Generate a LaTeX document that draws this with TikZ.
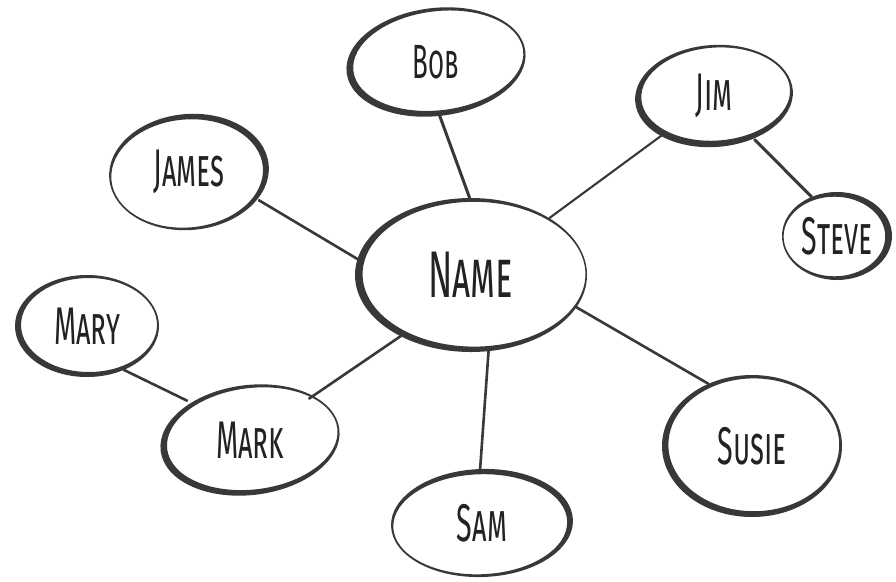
\documentclass[tikz,border=0pt]{standalone}
\usepackage{fontspec}
\setmainfont{Fira Sans}[FakeStretch=0.54]
\usetikzlibrary{shapes.geometric}
\definecolor{ink}{HTML}{383838}
\definecolor{txt}{HTML}{222222}
\tikzset{
  bubble/.style={ellipse, inner sep=0pt, outer sep=0pt, text=txt,
    font=\fontsize{53}{56}\selectfont\scshape},
  bigbubble/.style={bubble, font=\fontsize{66}{70}\selectfont\scshape},
  link/.style={draw=ink, line width=2.6pt, line cap=round},
  ring/.style={fill=ink, even odd rule},
}
% node, rx, ry, thickness, dx, dy, rotation
\newcommand\brushring[7]{%
  \begin{scope}[shift={(#1.center)}, rotate=#7]
    \fill[ring] (0,0) ellipse [x radius=#2, y radius=#3]
                (#5,#6) ellipse [x radius=#2-#4, y radius=#3-#4];
  \end{scope}}
\begin{document}
\begin{tikzpicture}[x=1pt,y=-1pt]
\useasboundingbox (0,0) rectangle (896,581);
\fill[white] (0,0) rectangle (896,581);
% nodes
\node[bigbubble, minimum width=232pt, minimum height=154pt] (name)  at (471,275) {Name};
\node[bubble, minimum width=180pt, minimum height=108pt, font=\fontsize{48}{52}\selectfont\scshape] (bob) at (436,62) {Bob};
\node[bubble, minimum width=158pt, minimum height=102pt] (jim)   at (714,96)  {Jim};
\node[bubble, minimum width=110pt, minimum height=88pt]  (steve) at (837,236) {Steve};
\node[bubble, minimum width=160pt, minimum height=116pt] (james) at (189,172) {James};
\node[bubble, minimum width=144pt, minimum height=102pt] (mary)  at (87,326)  {Mary};
\node[bubble, minimum width=180pt, minimum height=110pt] (mark)  at (250,440) {Mark};
\node[bubble, minimum width=182pt, minimum height=108pt] (sam)   at (482,523) {Sam};
\node[bubble, minimum width=180pt, minimum height=142pt] (susie) at (752,446) {Susie};
% connectors
\draw[link, line width=3pt] (bob.-86)   -- (name.91);
\draw[link, line width=2.1pt] (jim.-143) -- (name.36);
\draw[link, line width=3pt] (jim.-47)   -- (steve.123);
\draw[link] (james.-22) -- (name.172);
\draw[link] (mark.35)   -- (name.-139);
\draw[link] (mary.-50)  -- (mark.148);
\draw[link] (name.-77)  -- (sam.92);
\draw[link] (name.-17)  -- (susie.125);
% brush rings
\brushring{name}{116}{77}{4.6}{3}{-0.8}{0}
\brushring{bob}{90}{54}{4.5}{2.4}{-1}{7}
\brushring{jim}{79}{51}{4.5}{1.8}{-1.8}{4}
\brushring{steve}{55}{44}{4.2}{-2.6}{0.5}{0}
\brushring{james}{80}{58}{4}{-2}{1.3}{5}
\brushring{mary}{72}{51}{4}{2}{-1}{0}
\brushring{mark}{90}{55}{4.3}{2.4}{-1}{7}
\brushring{sam}{91}{54}{4}{-1.8}{1.2}{2}
\brushring{susie}{90}{71}{4.6}{1.8}{-1.2}{0}
\end{tikzpicture}
\end{document}
